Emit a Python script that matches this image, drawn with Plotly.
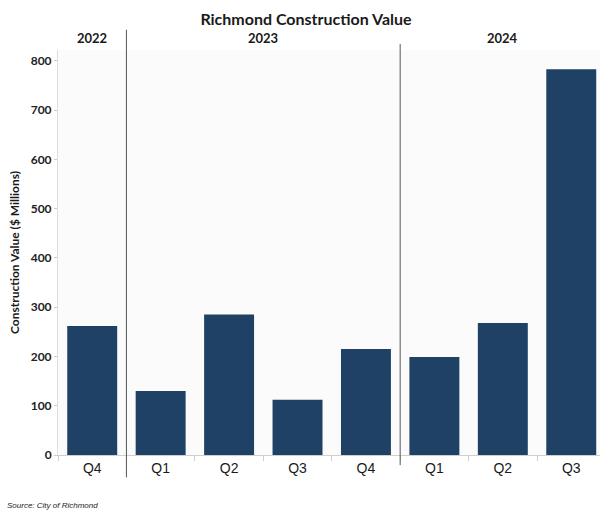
import plotly.graph_objects as go

# Quarterly construction value, City of Richmond ($ millions)
periods = ["2022 Q4", "2023 Q1", "2023 Q2", "2023 Q3", "2023 Q4", "2024 Q1", "2024 Q2", "2024 Q3"]
quarters = ["Q4", "Q1", "Q2", "Q3", "Q4", "Q1", "Q2", "Q3"]
years = ["2022", "2023", "2024"]
values = [262, 130, 285, 112, 215, 199, 268, 783]
y_ticks = [0, 100, 200, 300, 400, 500, 600, 700, 800]

BAR = "#1f4166"
LABEL_FONT = "Lato"

fig = go.Figure(
    go.Bar(
        x=periods,
        y=values,
        marker=dict(color=BAR, line=dict(width=0)),
        hoverinfo="skip",
    )
)

# Year headings above each group, and dividers between years
year_index = {y: [i for i, p in enumerate(periods) if p.startswith(y)] for y in years}
for y in years:
    idx = year_index[y]
    fig.add_annotation(
        x=sum(idx) / len(idx), y=1.0, xref="x", yref="paper",
        yanchor="bottom", yshift=2, text=f"<b>{y}</b>", showarrow=False,
        font=dict(family=LABEL_FONT, size=13, color="#1a1a1a"),
    )

for k, y in enumerate(years[1:]):
    start = year_index[y][0] - 0.5
    top = 1.05 if k == 0 else 1.015
    bottom = -0.055 if k == 0 else -0.025
    fig.add_shape(
        type="line", xref="x", yref="paper", x0=start, x1=start,
        y0=bottom, y1=top, line=dict(color="#555555", width=1),
    )

fig.add_annotation(
    x=-0.0978, y=-0.125, xref="paper", yref="paper", xanchor="left", yanchor="middle",
    text="<i>Source: City of Richmond</i>", showarrow=False,
    font=dict(family="Liberation Sans", size=8, color="#222222"),
)

fig.update_layout(
    width=600, height=510,
    margin=dict(l=58, r=0, t=50, b=55),
    paper_bgcolor="white",
    plot_bgcolor="#fbfbfb",
    bargap=0.27,
    showlegend=False,
    title=dict(
        text="<b>Richmond Construction Value</b>",
        x=0.51, xanchor="center", y=0.962, yanchor="middle",
        font=dict(family=LABEL_FONT, size=16, color="#1a1a1a"),
    ),
    xaxis=dict(
        tickvals=periods, ticktext=quarters,
        range=[-0.5, 7.42],
        tickson="boundaries", ticks="outside", ticklen=5, tickcolor="#cfcfcf",
        showline=True, linecolor="#cfcfcf", linewidth=1,
        showgrid=False, zeroline=False,
        tickfont=dict(family="Liberation Sans", size=14, color="#1a1a1a"),
        fixedrange=True,
    ),
    yaxis=dict(
        range=[0, 822],
        tickvals=y_ticks,
        ticks="outside", ticklen=3, tickcolor="#cccccc",
        showline=True, linecolor="#dddddd", linewidth=1,
        showgrid=False, zeroline=False,
        tickfont=dict(family=LABEL_FONT, size=12, color="#222222", weight="bold"),
        title=dict(
            text="Construction Value ($ Millions)", standoff=8,
            font=dict(family=LABEL_FONT, size=12, color="#1a1a1a", weight="bold"),
        ),
        fixedrange=True,
    ),
)

fig.write_html("out.html")
